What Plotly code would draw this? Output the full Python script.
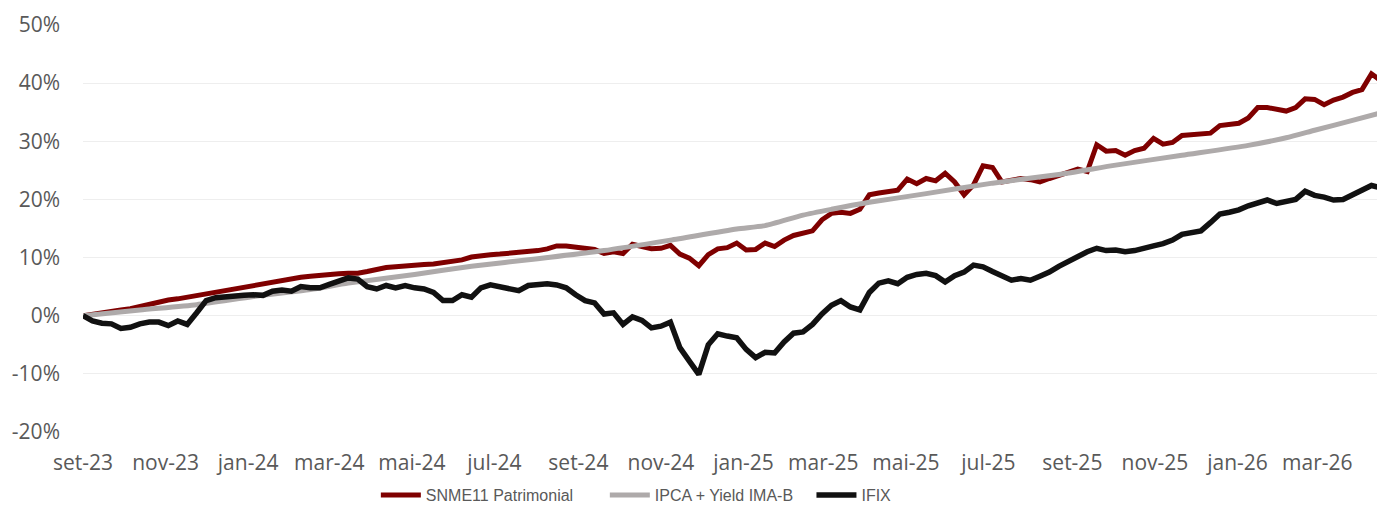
import pandas as pd
import plotly.graph_objects as go

# Weekly observation dates (every 7 days from 2023-09-01)
week_dates = pd.date_range("2023-09-01", periods=138, freq="7D")

# SNME11 Patrimonial, cumulative return (%)
snme11 = [
    0.0, 0.3, 0.6, 0.8, 1.0, 1.2, 1.6, 2.0, 2.3, 2.7,
    2.9, 3.2, 3.5, 3.8, 4.1, 4.4, 4.7, 5.0, 5.3, 5.5,
    5.8, 6.1, 6.3, 6.6, 6.8, 7.0, 7.1, 7.2, 7.3, 7.3,
    7.6, 8.0, 8.3, 8.4, 8.6, 8.6, 8.8, 8.9, 9.1, 9.3,
    9.6, 10.1, 10.4, 10.5, 10.6, 10.7, 10.9, 11.0, 11.2, 11.5,
    12.0, 12.0, 11.8, 11.6, 11.4, 10.7, 11.0, 10.7, 12.3, 11.9,
    11.5, 11.6, 12.1, 10.6, 9.9, 8.6, 10.5, 11.5, 11.7, 12.5,
    11.3, 11.4, 12.5, 11.9, 13.0, 13.8, 14.2, 14.6, 16.5, 17.6,
    17.8, 17.6, 18.3, 20.8, 21.1, 21.3, 21.6, 23.5, 22.7, 23.6,
    23.2, 24.5, 23.0, 20.8, 22.5, 25.8, 25.5, 23.0, 23.3, 23.6,
    23.4, 23.0, 23.6, 24.2, 24.6, 25.2, 24.8, 29.4, 28.3, 28.4,
    27.6, 28.4, 28.8, 30.5, 29.5, 29.8, 31.0, 31.1, 31.2, 31.4,
    32.7, 33.0, 33.1, 34.0, 35.8, 35.8, 35.6, 35.2, 35.8, 37.3,
    37.2, 36.3, 37.1, 37.6, 38.4, 38.9, 41.6, 40.4,
]

# IFIX, cumulative return (%)
ifix = [
    0.0, -0.9, -1.3, -1.4, -2.2, -2.0, -1.4, -1.1, -1.1, -1.7,
    -0.9, -1.5, 0.5, 2.6, 3.1, 3.3, 3.5, 3.5, 3.6, 3.5,
    4.2, 4.4, 4.2, 5.0, 4.8, 4.8, 5.4, 5.9, 6.5, 6.3,
    5.0, 4.6, 5.2, 4.8, 5.2, 4.8, 4.6, 4.0, 2.6, 2.6,
    3.6, 3.2, 4.8, 5.3, 5.0, 4.5, 4.3, 5.2, 5.3, 5.5,
    5.3, 4.8, 3.6, 2.6, 2.2, 0.3, 0.5, -1.5, -0.2, -0.8,
    -2.1, -1.8, -1.1, -5.5, -7.8, -10.1, -5.0, -3.1, -3.5, -3.8,
    -5.8, -7.2, -6.3, -6.4, -4.5, -3.0, -2.8, -1.5, 0.3, 1.8,
    2.6, 1.5, 1.0, 4.0, 5.6, 6.0, 5.5, 6.6, 7.1, 7.3,
    6.9, 5.8, 6.9, 7.5, 8.7, 8.4, 7.6, 6.8, 6.1, 6.4,
    6.1, 6.8, 7.5, 8.5, 9.4, 10.2, 11.0, 11.6, 11.2, 11.3,
    11.0, 11.2, 11.7, 12.0, 12.4, 13.0, 14.0, 14.4, 14.6, 16.0,
    17.5, 17.8, 18.2, 18.9, 19.5, 19.9, 19.3, 19.6, 20.0, 21.4,
    20.7, 20.4, 19.9, 20.0, 20.8, 21.4, 22.4, 22.0,
]

# IPCA + Yield IMA-B benchmark (%)
ipca_dates = [
    "2023-09-01", "2023-10-13", "2023-11-24", "2024-01-05", "2024-02-16",
    "2024-03-15", "2024-05-03", "2024-06-14", "2024-08-02", "2024-09-20",
    "2024-11-08", "2024-12-27", "2025-01-17", "2025-02-14", "2025-03-07",
    "2025-04-04", "2025-05-16", "2025-07-04", "2025-08-22", "2025-10-03",
    "2025-11-21", "2026-01-09", "2026-02-06", "2026-02-27", "2026-03-27",
    "2026-04-17",
]
ipca_yield = [
    0.0, 1.0, 1.9, 3.3, 4.5,
    5.6, 7.1, 8.5, 9.8, 11.2,
    13.0, 14.9, 15.5, 17.3, 18.3,
    19.5, 21.0, 22.8, 24.3, 25.9,
    27.6, 29.3, 30.6, 31.9, 33.6,
    34.9,
]

# Axis ticks
tick_dates = [
    "2023-09-01", "2023-11-01", "2024-01-01", "2024-03-01", "2024-05-01",
    "2024-07-01", "2024-09-01", "2024-11-01", "2025-01-01", "2025-03-01",
    "2025-05-01", "2025-07-01", "2025-09-01", "2025-11-01", "2026-01-01",
    "2026-03-01",
]
tick_labels = [
    "set-23", "nov-23", "jan-24", "mar-24", "mai-24", "jul-24", "set-24",
    "nov-24", "jan-25", "mar-25", "mai-25", "jul-25", "set-25", "nov-25",
    "jan-26", "mar-26",
]
y_ticks = [-20, -10, 0, 10, 20, 30, 40, 50]
y_labels = ["-20%", "-10%", "0%", "10%", "20%", "30%", "40%", "50%"]

NB = "\u00a0"

fig = go.Figure()
fig.add_trace(go.Scatter(
    x=week_dates, y=snme11, mode="lines", name="SNME11 Patrimonial" + NB * 6,
    line=dict(color="#7f0000", width=5),
))
fig.add_trace(go.Scatter(
    x=ipca_dates, y=ipca_yield, mode="lines", name="IPCA + Yield IMA-B" + NB * 3,
    line=dict(color="#aeaaaa", width=5, shape="spline", smoothing=0.6),
))
fig.add_trace(go.Scatter(
    x=week_dates, y=ifix, mode="lines", name="IFIX",
    line=dict(color="#111111", width=5.5),
))

# The page body has an 8px margin, so the figure is drawn at (8, 8).
fig.update_layout(
    width=1377, height=497,
    margin=dict(l=75, r=0, t=17, b=73, autoexpand=False),
    paper_bgcolor="white", plot_bgcolor="white",
    font=dict(family="Open Sans, sans-serif", size=21, color="#595959"),
    showlegend=True,
    legend=dict(
        orientation="h", xref="paper", x=0.425, xanchor="center",
        yref="container", y=0.02, yanchor="middle",
        font=dict(family="Liberation Sans, Arial, sans-serif",
                  size=16, color="#595959"),
        itemwidth=40, tracegroupgap=0,
    ),
)
fig.update_xaxes(
    type="date", range=["2023-09-01", "2026-04-20"],
    tickmode="array", tickvals=tick_dates, ticktext=tick_labels,
    showgrid=False, zeroline=False, showline=False,
    ticks="", ticklabelstandoff=16,
    tickfont=dict(size=21, color="#595959"),
)
fig.update_yaxes(
    range=[-20, 50], tickmode="array", tickvals=y_ticks, ticktext=y_labels,
    showgrid=True, gridcolor="#eeeeee", gridwidth=1,
    zeroline=False, showline=False, ticks="", ticklabelstandoff=22,
    tickfont=dict(size=21, color="#595959"),
)

fig.write_html("out.html")
